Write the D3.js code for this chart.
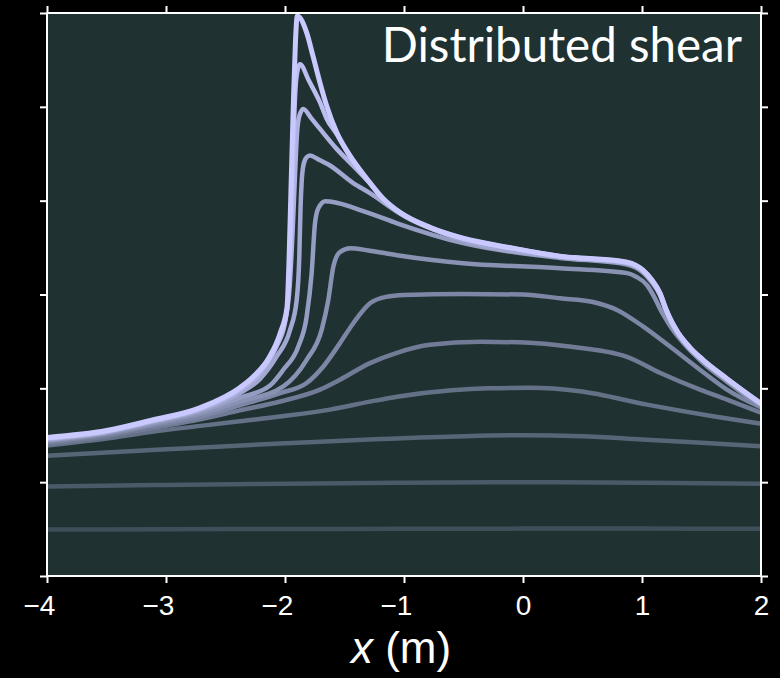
<!DOCTYPE html>
<html>
<head>
<meta charset="utf-8">
<script src="https://cdn.jsdelivr.net/npm/d3@7"></script>
<style>
  html, body { margin: 0; padding: 0; background: #000; }
  svg { display: block; }
</style>
</head>
<body>
<svg id="chart" width="780" height="678"></svg>
<script>
// ---------- data ----------
const xTicks = [-4, -3, -2, -1, 0, 1, 2];
const yTicks = [0, 1, 2, 3, 4, 5, 6];
const titleText = "Distributed shear";
const xLabelVar = "x";
const xLabelUnit = " (m)";

const c0 = [[-4,0.495],[-3,0.498],[-2,0.501],[-1,0.503],[0,0.505],[1,0.505],[2,0.503]];
const c1 = [[-4,0.953],[-3,0.97],[-2,0.984],[-1,0.995],[0,1.0],[1,0.995],[2,0.984]];
const c2 = [[-4,1.282],[-3,1.35],[-2,1.415],[-1.2,1.46],[-0.5,1.49],[0,1.5],[0.5,1.49],[1.0,1.455],[1.5,1.42],[2.0,1.384]];
const c3 = [[-4,1.39],[-3.5,1.465],[-3.13,1.535],[-2.71,1.60],[-2.38,1.65],[-2.04,1.70],[-1.622,1.773],[-1.286,1.858],[-1.059,1.911],[-0.6,1.98],[-0.3,2.0],[0.06,2.005],[0.479,1.968],[1.042,1.826],[1.597,1.702],[2.0,1.622]];
const c4 = [[-4,1.41],[-3.5,1.49],[-3.13,1.575],[-2.71,1.67],[-2.38,1.765],[-2.04,1.86],[-1.706,1.986],[-1.538,2.092],[-1.286,2.269],[-1.059,2.379],[-0.782,2.464],[-0.361,2.496],[0.059,2.485],[0.35,2.45],[0.874,2.336],[1.15,2.166],[1.487,1.986],[1.714,1.88],[2.0,1.74]];
const c5 = [[-4,1.43],[-3.5,1.51],[-3.13,1.60],[-2.71,1.70],[-2.38,1.82],[-2.04,1.95],[-1.818,2.057],[-1.678,2.233],[-1.538,2.482],[-1.426,2.694],[-1.286,2.906],[-1.15,2.975],[-1.0,2.995],[-0.504,3.006],[0.0,3.0],[0.311,2.96],[0.588,2.92],[0.79,2.835],[1.008,2.66],[1.235,2.445],[1.487,2.198],[1.714,1.986],[2.0,1.795]];
const c6 = [[-4,1.44],[-3.5,1.52],[-3.13,1.615],[-2.71,1.73],[-2.38,1.86],[-2.014,2.021],[-1.818,2.304],[-1.692,2.623],[-1.636,2.942],[-1.594,3.295],[-1.54,3.45],[-1.454,3.494],[-1.3,3.47],[-1.059,3.419],[-0.504,3.334],[0.311,3.281],[0.874,3.228],[0.95,3.19],[1.042,3.10],[1.1,2.98],[1.151,2.85],[1.2,2.74],[1.25,2.64],[1.35,2.48],[1.513,2.273],[1.714,2.071],[2.0,1.81]];
const c7 = [[-4,1.45],[-3.5,1.53],[-3.13,1.63],[-2.71,1.755],[-2.38,1.90],[-2.126,2.03],[-2.014,2.198],[-1.888,2.446],[-1.818,2.764],[-1.776,3.228],[-1.748,3.759],[-1.72,3.92],[-1.66,3.995],[-1.622,3.99],[-1.3,3.87],[-1.059,3.759],[-0.504,3.547],[0.311,3.39],[0.874,3.32],[0.95,3.285],[1.008,3.235],[1.08,3.135],[1.151,2.995],[1.2,2.83],[1.25,2.69],[1.30,2.585],[1.40,2.425],[1.513,2.29],[1.714,2.09],[2.0,1.83]];
const c8 = [[-4,1.46],[-3.5,1.535],[-3.13,1.64],[-2.71,1.77],[-2.38,1.95],[-2.21,2.10],[-2.07,2.34],[-1.958,2.62],[-1.902,2.94],[-1.88,3.4],[-1.87,3.9],[-1.86,4.2],[-1.845,4.38],[-1.82,4.46],[-1.79,4.481],[-1.72,4.44],[-1.622,4.375],[-1.43,4.19],[-1.286,4.08],[-1.03,3.86],[-0.504,3.58],[0.311,3.40],[0.874,3.335],[0.95,3.30],[1.008,3.25],[1.08,3.15],[1.151,3.005],[1.2,2.84],[1.25,2.70],[1.30,2.59],[1.40,2.43],[1.513,2.297],[1.714,2.10],[2.0,1.835]];
const c9 = [[-4,1.465],[-3.5,1.54],[-3.13,1.645],[-2.71,1.78],[-2.38,1.98],[-2.21,2.16],[-2.07,2.45],[-2.0,2.70],[-1.96,3.1],[-1.935,3.7],[-1.915,4.3],[-1.9,4.7],[-1.88,4.9],[-1.846,4.977],[-1.78,4.88],[-1.706,4.765],[-1.566,4.552],[-1.43,4.375],[-1.29,4.19],[-1.176,4.015],[-1.034,3.868],[-0.782,3.71],[-0.504,3.595],[-0.084,3.49],[0.311,3.405],[0.874,3.34],[0.95,3.305],[1.008,3.255],[1.08,3.155],[1.151,3.01],[1.2,2.845],[1.25,2.705],[1.30,2.595],[1.40,2.435],[1.513,2.30],[1.714,2.10],[2.0,1.836]];
const c10 = [[-4,1.47],[-3.5,1.545],[-3.13,1.65],[-2.71,1.79],[-2.38,1.995],[-2.27,2.11],[-2.13,2.32],[-2.04,2.56],[-1.983,2.84],[-1.96,3.3],[-1.94,4.1],[-1.925,4.8],[-1.905,5.3],[-1.874,5.455],[-1.80,5.28],[-1.706,5.047],[-1.65,4.874],[-1.566,4.71],[-1.454,4.47],[-1.314,4.23],[-1.176,4.02],[-1.034,3.872],[-0.782,3.713],[-0.504,3.598],[-0.084,3.492],[0.311,3.407],[0.874,3.343],[0.95,3.308],[1.008,3.258],[1.08,3.158],[1.151,3.013],[1.2,2.848],[1.25,2.708],[1.30,2.598],[1.40,2.438],[1.513,2.30],[1.714,2.102],[2.0,1.837]];
const c11 = [[-4,1.476],[-3.5,1.55],[-3.13,1.657],[-2.71,1.795],[-2.38,2.007],[-2.27,2.12],[-2.13,2.336],[-2.04,2.591],[-1.983,2.867],[-1.966,3.37],[-1.95,4.11],[-1.929,5.065],[-1.912,5.70],[-1.897,5.968],[-1.818,5.791],[-1.765,5.543],[-1.706,5.256],[-1.65,5.012],[-1.566,4.729],[-1.454,4.481],[-1.314,4.237],[-1.176,4.024],[-1.034,3.876],[-0.782,3.716],[-0.504,3.60],[-0.084,3.494],[0.311,3.409],[0.874,3.345],[0.95,3.31],[1.008,3.26],[1.08,3.16],[1.151,3.016],[1.2,2.85],[1.25,2.71],[1.30,2.60],[1.40,2.44],[1.513,2.304],[1.714,2.103],[2.0,1.837]];

const curves = [c0, c1, c2, c3, c4, c5, c6, c7, c8, c9, c10, c11];

// ---------- layout ----------
const svg = d3.select("#chart");
const W = 780, H = 678;
const pLeft = 47, pRight = 761, pTop = 13, pBottom = 576;

svg.append("rect").attr("width", W).attr("height", H).attr("fill", "#000");

const x = d3.scaleLinear().domain([-4, 2]).range([pLeft, pRight]);
const y = d3.scaleLinear().domain([0, 6]).range([pBottom, pTop]);

svg.append("rect")
  .attr("x", pLeft).attr("y", pTop)
  .attr("width", pRight - pLeft).attr("height", pBottom - pTop)
  .attr("fill", "#1f3131");

svg.append("defs").append("clipPath").attr("id", "clip")
  .append("rect").attr("x", pLeft).attr("y", pTop - 2)
  .attr("width", pRight - pLeft).attr("height", pBottom - pTop + 2);

const colorOf = d3.scaleLinear()
  .domain([0, curves.length - 1])
  .range(["#3e4f59", "#c9c9ff"])
  .interpolate(d3.interpolateRgb);

const line = d3.line()
  .x(d => x(d[0]))
  .y(d => y(d[1]))
  .curve(d3.curveMonotoneX);

const g = svg.append("g").attr("clip-path", "url(#clip)");
g.selectAll("path")
  .data(curves)
  .join("path")
  .attr("d", line)
  .attr("fill", "none")
  .attr("stroke", (d, i) => colorOf(i))
  .attr("stroke-width", (d, i) => i === curves.length - 1 ? 5 : 4.5)
  .attr("stroke-linejoin", "round")
  .attr("stroke-linecap", "butt");

// ---------- axes ----------
const tickLen = 7;
function styleAxis(sel) {
  sel.select(".domain").remove();
  sel.selectAll(".tick line").attr("stroke", "#fff").attr("stroke-width", 2);
  sel.selectAll(".tick text")
    .attr("fill", "#fff")
    .style("font-family", "'Liberation Sans', Arial, sans-serif")
    .style("font-size", "28px");
}

svg.append("g").attr("transform", `translate(0,${pBottom})`)
  .call(d3.axisBottom(x).tickValues(xTicks).tickSize(tickLen).tickSizeOuter(0).tickPadding(12)
    .tickFormat(d => (d < 0 ? "\u2212" + Math.abs(d) : String(d))))
  .call(styleAxis)
  .call(sel => sel.selectAll(".tick text")
    .attr("dx", d => (d < 0 ? "-0.29em" : null)));

svg.append("g").attr("transform", `translate(0,${pTop})`)
  .call(d3.axisTop(x).tickValues(xTicks).tickSize(tickLen).tickSizeOuter(0).tickFormat(""))
  .call(styleAxis);

svg.append("g").attr("transform", `translate(${pLeft},0)`)
  .call(d3.axisLeft(y).tickValues(yTicks).tickSize(tickLen).tickSizeOuter(0).tickFormat(""))
  .call(styleAxis);

svg.append("g").attr("transform", `translate(${pRight},0)`)
  .call(d3.axisRight(y).tickValues(yTicks).tickSize(tickLen).tickSizeOuter(0).tickFormat(""))
  .call(styleAxis);

// frame
svg.append("rect")
  .attr("x", pLeft).attr("y", pTop)
  .attr("width", pRight - pLeft).attr("height", pBottom - pTop)
  .attr("fill", "none").attr("stroke", "#fff").attr("stroke-width", 2);

// ---------- labels ----------
const xl = svg.append("text")
  .attr("x", 401).attr("y", 663)
  .attr("text-anchor", "middle")
  .attr("fill", "#fff")
  .style("font-family", "'Liberation Sans', Arial, sans-serif")
  .style("font-size", "44px");
xl.append("tspan").style("font-style", "italic").text(xLabelVar);
xl.append("tspan").text(xLabelUnit);

const title = svg.append("text")
  .attr("x", 742).attr("y", 62)
  .attr("text-anchor", "end")
  .attr("fill", "#fff")
  .style("font-family", "Lato, 'Open Sans', sans-serif")
  .style("font-size", "44px")
  .text(titleText);
const tw = title.node().getComputedTextLength();
if (tw > 0) title.style("font-size", (44 * 360 / tw).toFixed(1) + "px");
</script>
</body>
</html>
